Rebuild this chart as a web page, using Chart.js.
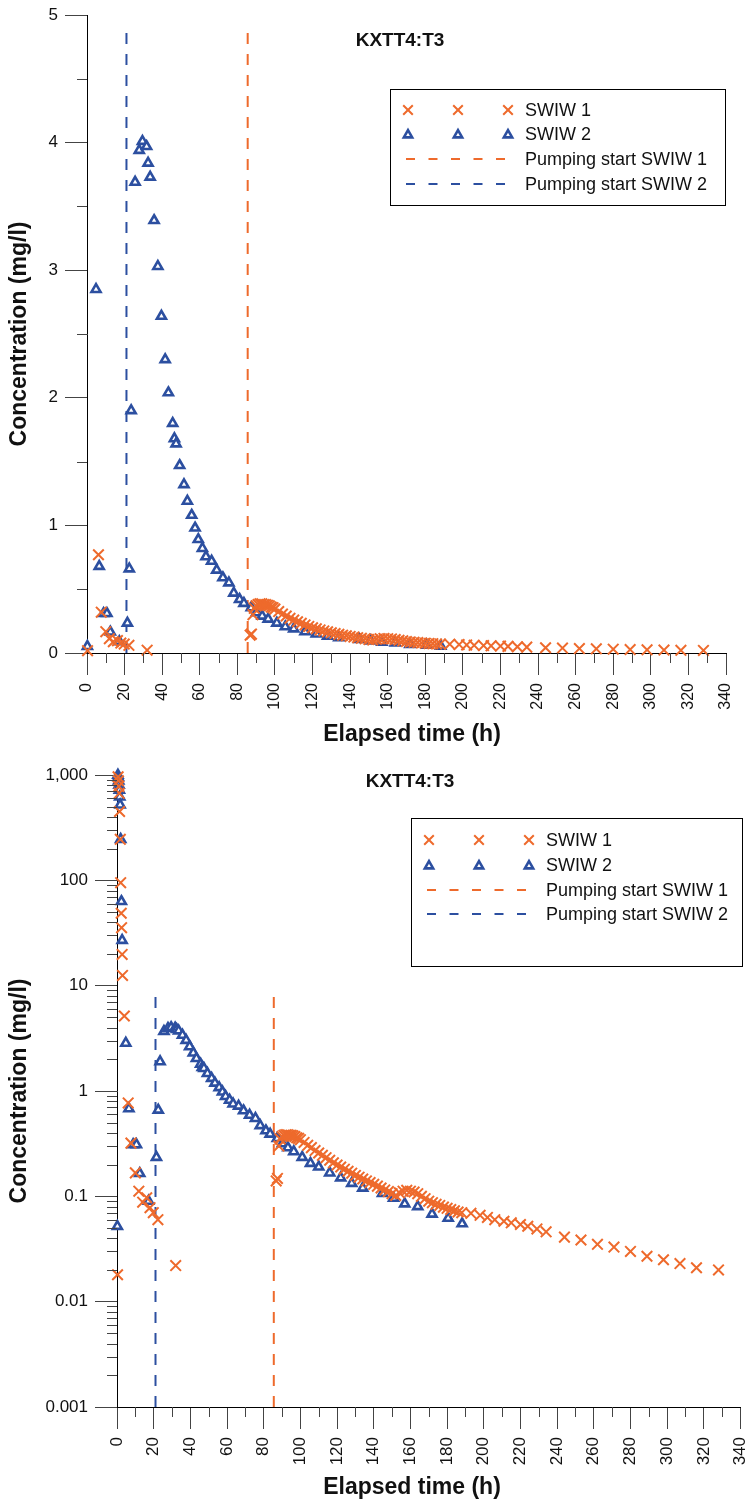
<!DOCTYPE html>
<html>
<head>
<meta charset="utf-8">
<script src="https://cdn.jsdelivr.net/npm/chart.js@4.4.0/dist/chart.umd.min.js"></script>
<style>
    body { margin: 0; background: #fff; }
    .panel { width: 750px; height: 753px; }
    canvas { display: block; }
</style>
</head>
<body>
<div class="panel"><canvas id="linChart" width="750" height="753"></canvas></div>
<div class="panel"><canvas id="logChart" width="750" height="753"></canvas></div>
<script>
// SWIW 1 samples: elapsed time (h) and concentration (mg/l)
const swiw1Time = [0.3, 0.6, 0.8, 1.0, 1.2, 1.4, 1.8, 2.0, 2.3, 2.5, 2.8, 3.0, 4.0, 6.1, 7.6, 10.0, 11.9, 14.0, 16.2, 18.0,
    19.8, 22.3, 32.0, 86.8, 87.5, 88.3, 89.0, 90, 91, 92, 93, 94, 95, 96, 97, 98, 99, 100, 102, 104,
    106, 108, 110, 112, 114, 116, 118, 120, 122, 124, 126, 128, 130, 132, 134, 136, 138, 140, 142, 144,
    146, 148, 150, 152, 154, 156, 158, 160, 162, 164, 166, 168, 170, 172, 174, 176, 178, 180, 182, 184,
    186, 188, 193, 198, 202, 206, 211, 215, 220, 224, 229, 234, 244, 253, 262, 271, 280, 289, 298, 307,
    316, 328];
const swiw1Conc = [0.018, 960, 880, 780, 670, 450, 245, 95, 48.7, 35.5, 19.8, 12.5, 5.15, 0.77, 0.32, 0.167, 0.112, 0.088, 0.097, 0.078,
    0.07, 0.06, 0.022, 0.14, 0.148, 0.30, 0.35, 0.37, 0.38, 0.385, 0.385, 0.38, 0.38, 0.375, 0.37, 0.36, 0.355, 0.345, 0.325, 0.305,
    0.29, 0.272, 0.258, 0.245, 0.233, 0.22, 0.208, 0.198, 0.19, 0.181, 0.173, 0.166, 0.158, 0.152, 0.146, 0.14, 0.135, 0.13, 0.125, 0.12,
    0.115, 0.111, 0.106, 0.102, 0.108, 0.112, 0.114, 0.112, 0.11, 0.106, 0.1, 0.095, 0.09, 0.087, 0.084, 0.082, 0.079, 0.077, 0.075, 0.073,
    0.071, 0.07, 0.069, 0.066, 0.063, 0.06, 0.058, 0.056, 0.054, 0.052, 0.049, 0.046, 0.041, 0.0385, 0.035, 0.033, 0.030, 0.027, 0.025, 0.023,
    0.021, 0.020];

// SWIW 2 samples
const swiw2Time = [0.2, 0.5, 0.7, 0.9, 1.1, 1.3, 1.5, 1.7, 2.0, 2.4, 2.8, 4.8, 6.5, 8.8, 10.6, 12.4, 17.2, 21.5, 22.5, 23.5,
    25.6, 27.8, 29.5, 31.7, 32.5, 33.6, 35.7, 37.7, 39.6, 41.6, 43.3, 45.6, 46.5, 47.4, 49.3, 51.6, 53.4, 55.7, 57.5, 59.2,
    61.4, 63.3, 66.3, 69.0, 72.3, 75.5, 78.1, 81.2, 83.5, 87.4, 90.2, 93.2, 96.4, 101, 105.5, 110, 116, 122, 128, 134,
    144.8, 150.8, 156.9, 164, 171.8, 180.6, 188.2];
const swiw2Conc = [0.052, 1000, 950, 880, 800, 720, 620, 520, 245, 63, 27, 2.85, 0.68, 0.31, 0.31, 0.165, 0.09, 0.235, 0.66, 1.9,
    3.69, 3.94, 4.01, 3.97, 3.84, 3.73, 3.39, 3.03, 2.64, 2.30, 2.04, 1.80, 1.68, 1.64, 1.47, 1.32, 1.19, 1.08, 0.98, 0.89,
    0.82, 0.755, 0.72, 0.65, 0.59, 0.55, 0.47, 0.42, 0.39, 0.355, 0.316, 0.29, 0.266, 0.235, 0.206, 0.19, 0.167, 0.15, 0.133, 0.12,
    0.107, 0.096, 0.085, 0.08, 0.068, 0.062, 0.055];

// pumping start times (h)
const pumpStart1 = 85.5;
const pumpStart2 = 21;

// axis ticks
const xTicks = [0, 20, 40, 60, 80, 100, 120, 140, 160, 180, 200, 220, 240, 260, 280, 300, 320, 340];
const linYTicks = [0, 1, 2, 3, 4, 5];
const logYTicks = [0.001, 0.01, 0.1, 1, 10, 100, 1000];
const logYLabels = ['0.001', '0.01', '0.1', '1', '10', '100', '1,000'];
const seriesNames = ['SWIW 1', 'SWIW 2', 'Pumping start SWIW 1', 'Pumping start SWIW 2'];
const plotTitle = 'KXTT4:T3';

const ORANGE = '#EE6A2C';
const BLUE = '#2C4FA0';
const FONT = "'Liberation Sans', Arial, Helvetica, sans-serif";

function points(times, values) {
    return times.map((t, i) => ({ x: t, y: values[i] }));
}

// minor tick positions between the labelled ones
const xMinor = xTicks.slice(0, -1).map(v => v + 10);
const linYMinor = linYTicks.slice(0, -1).map(v => v + 0.5);
const logYMinor = [];
logYTicks.slice(0, -1).forEach(d => {
    for (let k = 2; k <= 9; k++) logYMinor.push(d * k);
});

function drawCross(ctx, x, y, r) {
    ctx.beginPath();
    ctx.moveTo(x - r, y - r); ctx.lineTo(x + r, y + r);
    ctx.moveTo(x - r, y + r); ctx.lineTo(x + r, y - r);
    ctx.stroke();
}

function drawTriangle(ctx, x, y, r) {
    ctx.beginPath();
    ctx.moveTo(x, y - r);
    ctx.lineTo(x + r * 0.866, y + r * 0.5);
    ctx.lineTo(x - r * 0.866, y + r * 0.5);
    ctx.closePath();
    ctx.fill();
    ctx.stroke();
}

// short ticks at the half steps / log sub-decades
const minorTicks = {
    id: 'minorTicks',
    afterDraw(chart, args, opts) {
        const { ctx, chartArea } = chart;
        const { x, y } = chart.scales;
        ctx.save();
        ctx.strokeStyle = '#444';
        ctx.lineWidth = 1;
        ctx.beginPath();
        opts.x.forEach(v => {
            const px = Math.round(x.getPixelForValue(v)) + 0.5;
            ctx.moveTo(px, chartArea.bottom);
            ctx.lineTo(px, chartArea.bottom + opts.len);
        });
        opts.y.forEach(v => {
            const py = Math.round(y.getPixelForValue(v)) + 0.5;
            ctx.moveTo(chartArea.left - opts.len, py);
            ctx.lineTo(chartArea.left, py);
        });
        ctx.stroke();
        ctx.restore();
    }
};

// title, axis titles and the boxed key
const decorations = {
    id: 'decorations',
    afterDraw(chart, args, o) {
        const ctx = chart.ctx;
        ctx.save();
        ctx.fillStyle = '#111';
        ctx.textAlign = 'center';
        ctx.textBaseline = 'middle';
        ctx.font = 'bold 19px ' + FONT;
        ctx.fillText(plotTitle, o.title[0], o.title[1]);
        ctx.font = 'bold 23px ' + FONT;
        ctx.fillText('Elapsed time (h)', o.xTitle[0], o.xTitle[1]);
        ctx.save();
        ctx.translate(o.yTitle[0], o.yTitle[1]);
        ctx.rotate(-Math.PI / 2);
        ctx.fillText('Concentration (mg/l)', 0, 0);
        ctx.restore();

        // key frame
        const k = o.key;
        ctx.fillStyle = '#fff';
        ctx.fillRect(k.left, k.top, k.width, k.height);
        ctx.strokeStyle = '#000';
        ctx.lineWidth = 1;
        ctx.strokeRect(k.left + 0.5, k.top + 0.5, k.width, k.height);

        // marker rows
        ctx.lineWidth = 2;
        ctx.strokeStyle = ORANGE;
        k.marks.forEach(mx => drawCross(ctx, mx, k.rows[0], 4.8));
        ctx.strokeStyle = BLUE;
        ctx.fillStyle = '#fff';
        ctx.lineWidth = 2.6;
        k.marks.forEach(mx => drawTriangle(ctx, mx, k.rows[1] + 1, 4.8));

        // dashed rows
        ctx.lineWidth = 2;
        [ORANGE, BLUE].forEach((c, i) => {
            ctx.strokeStyle = c;
            ctx.beginPath();
            for (let d = 0; d < 5; d++) {
                const sx = k.dashStart + d * 22.5;
                ctx.moveTo(sx, k.rows[2 + i]);
                ctx.lineTo(sx + 9, k.rows[2 + i]);
            }
            ctx.stroke();
        });

        ctx.fillStyle = '#111';
        ctx.textAlign = 'left';
        ctx.font = '18px ' + FONT;
        seriesNames.forEach((name, i) => ctx.fillText(name, k.textX, k.rows[i] + 1));
        ctx.restore();
    }
};

function buildChart(canvasId, cfg) {
    const datasets = [
        {
            label: seriesNames[0],
            data: points(swiw1Time, swiw1Conc),
            pointStyle: 'crossRot',
            pointRadius: 7.5,
            pointBorderWidth: 2,
            borderColor: ORANGE,
            backgroundColor: ORANGE,
            showLine: false,
            clip: { left: 10, right: 10, top: cfg.clipTop, bottom: 10 }
        },
        {
            label: seriesNames[1],
            data: points(swiw2Time, swiw2Conc),
            pointStyle: 'triangle',
            pointRadius: 5.2,
            pointBorderWidth: 2.6,
            borderColor: BLUE,
            backgroundColor: '#fff',
            showLine: false,
            clip: { left: 10, right: 10, top: cfg.clipTop, bottom: 10 }
        },
        {
            type: 'line',
            label: seriesNames[2],
            data: [{ x: pumpStart1, y: cfg.yMin }, { x: pumpStart1, y: cfg.lineTop }],
            borderColor: ORANGE,
            borderWidth: 2,
            borderDash: [11, 10],
            pointRadius: 0
        },
        {
            type: 'line',
            label: seriesNames[3],
            data: [{ x: pumpStart2, y: cfg.yMin }, { x: pumpStart2, y: cfg.lineTop }],
            borderColor: BLUE,
            borderWidth: 2,
            borderDash: [11, 10],
            pointRadius: 0
        }
    ];

    return new Chart(document.getElementById(canvasId), {
        type: 'scatter',
        data: { datasets: datasets },
        options: {
            responsive: false,
            animation: false,
            events: [],
            layout: { padding: cfg.padding },
            scales: {
                x: {
                    type: 'linear',
                    min: 0,
                    max: 340,
                    afterBuildTicks: s => { s.ticks = xTicks.map(v => ({ value: v })); },
                    afterFit: s => {
                        s.height = cfg.xHeight;
                        s.paddingLeft = 0; s.paddingRight = 0;
                    },
                    ticks: {
                        minRotation: 90,
                        maxRotation: 90,
                        autoSkip: false,
                        padding: 8,
                        color: '#111',
                        font: { family: FONT, size: cfg.xFont },
                        callback: v => String(v)
                    },
                    grid: { display: true, drawOnChartArea: false, drawTicks: true, tickLength: 22, tickColor: '#444' },
                    border: { display: true, color: '#000', width: 1 }
                },
                y: {
                    type: cfg.yType,
                    min: cfg.yMin,
                    max: cfg.yMax,
                    afterBuildTicks: s => { s.ticks = cfg.yTicks.map(v => ({ value: v })); },
                    afterFit: s => {
                        s.width = cfg.yWidth;
                        s.paddingTop = 0; s.paddingBottom = 0;
                    },
                    ticks: {
                        padding: 7,
                        color: '#111',
                        font: { family: FONT, size: 17 },
                        callback: v => cfg.yLabels[cfg.yTicks.indexOf(v)]
                    },
                    grid: { display: true, drawOnChartArea: false, drawTicks: true, tickLength: 22, tickColor: '#444' },
                    border: { display: true, color: '#000', width: 1 }
                }
            },
            plugins: {
                legend: { display: false },
                tooltip: { enabled: false },
                minorTicks: { x: xMinor, y: cfg.yMinor, len: 10 },
                decorations: cfg.deco
            }
        },
        plugins: [minorTicks, decorations]
    });
}

// linear panel
buildChart('linChart', {
    yType: 'linear', yMin: 0, yMax: 5, lineTop: 4.9, clipTop: 0,
    yTicks: linYTicks, yLabels: linYTicks.map(String), yMinor: linYMinor,
    padding: { left: 0, top: 15, right: 24, bottom: 0 },
    yWidth: 87, xHeight: 100, xFont: 16,
    deco: {
        title: [400, 41], xTitle: [412, 735], yTitle: [20, 334],
        key: { left: 390, top: 89, width: 335, height: 116, rows: [110, 134, 159, 184],
               marks: [408, 458, 508], dashStart: 406, textX: 525 }
    }
});

// logarithmic panel
buildChart('logChart', {
    yType: 'logarithmic', yMin: 0.001, yMax: 1000, lineTop: 8, clipTop: 10,
    yTicks: logYTicks, yLabels: logYLabels, yMinor: logYMinor,
    padding: { left: 0, top: 22, right: 7, bottom: 0 },
    yWidth: 117, xHeight: 99, xFont: 17,
    deco: {
        title: [410, 29], xTitle: [412, 735], yTitle: [20, 338],
        key: { left: 411, top: 65, width: 331, height: 148, rows: [87, 112, 137, 161],
               marks: [429, 479, 529], dashStart: 427, textX: 546 }
    }
});
</script>
</body>
</html>
